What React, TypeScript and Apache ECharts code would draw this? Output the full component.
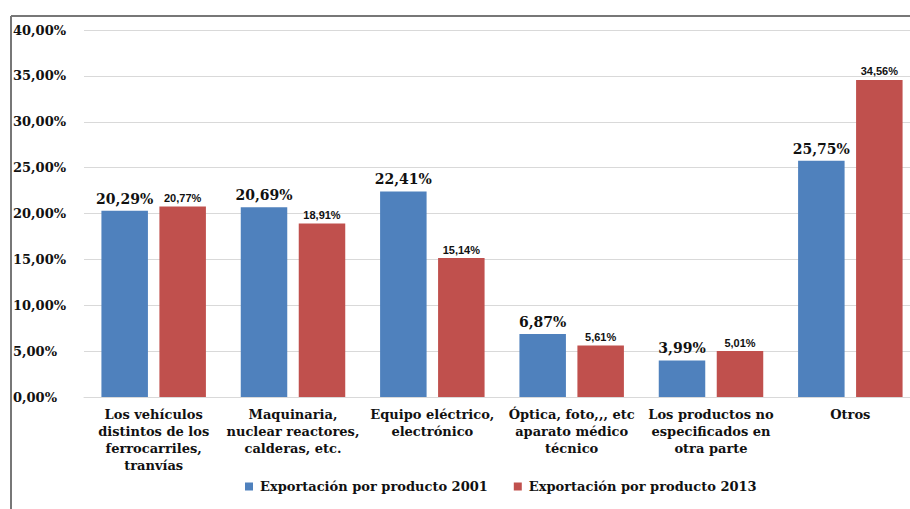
import React, { useEffect, useRef } from "react";
import * as echarts from "echarts";

const categories = [
  "Los vehículos\ndistintos de los\nferrocarriles,\ntranvías",
  "Maquinaria,\nnuclear reactores,\ncalderas, etc.",
  "Equipo eléctrico,\nelectrónico",
  "Óptica, foto,,, etc\naparato médico\ntécnico",
  "Los productos no\nespecificados en\notra parte",
  "Otros",
];
const series2001 = [20.29, 20.69, 22.41, 6.87, 3.99, 25.75];
const series2013 = [20.77, 18.91, 15.14, 5.61, 5.01, 34.56];
const seriesNames = ["Exportación por producto 2001", "Exportación por producto 2013"];
const yTicks = { min: 0, max: 40, interval: 5 };

const fmt = (v: number) => v.toFixed(2).replace(".", ",") + "%";
const SERIF = "DejaVu Serif";
const SANS = "Liberation Sans";

export default function App() {
  const ref = useRef<HTMLDivElement>(null);
  useEffect(() => {
    if (!ref.current) return;
    const chart = echarts.init(ref.current, null, { renderer: "svg" });
    chart.setOption({
      animation: false,
      backgroundColor: "#ffffff",
      textStyle: { fontFamily: SERIF },
      grid: {
        left: 84,
        top: 30,
        width: 836,
        bottom: 112,
        containLabel: false,
        outerBoundsMode: "none",
      },
      legend: {
        data: seriesNames,
        bottom: 11,
        left: 240,
        itemWidth: 8,
        itemHeight: 8,
        itemGap: 26,
        icon: "rect",
        textStyle: {
          fontFamily: SERIF,
          fontWeight: "bold",
          fontSize: 13,
          color: "#111",
          padding: [0, 0, 0, 2],
        },
      },
      xAxis: {
        type: "category",
        data: categories,
        axisTick: { show: false },
        axisLine: { lineStyle: { color: "#d9d9d9", width: 1 } },
        axisLabel: {
          interval: 0,
          margin: 9,
          fontFamily: SERIF,
          fontWeight: "bold",
          fontSize: 13,
          lineHeight: 17,
          color: "#111",
        },
      },
      yAxis: {
        type: "value",
        min: yTicks.min,
        max: yTicks.max,
        interval: yTicks.interval,
        axisLine: { show: false },
        axisTick: { show: false },
        splitLine: { lineStyle: { color: "#d9d9d9", width: 1 } },
        axisLabel: {
          formatter: (v: number) => fmt(v),
          align: "left",
          margin: 71,
          fontFamily: SERIF,
          fontWeight: "bold",
          fontSize: 13,
          color: "#111",
        },
      },
      series: [
        {
          name: seriesNames[0],
          type: "bar",
          data: series2001,
          barWidth: 46.5,
          barGap: "24.7%",
          itemStyle: { color: "#4F81BD" },
          label: {
            show: true,
            position: "top",
            distance: 5,
            formatter: (p: any) => fmt(p.value),
            fontFamily: SERIF,
            fontWeight: "bold",
            fontSize: 14,
            color: "#111",
          },
        },
        {
          name: seriesNames[1],
          type: "bar",
          data: series2013,
          barWidth: 46.5,
          barGap: "24.7%",
          itemStyle: { color: "#C0504D" },
          label: {
            show: true,
            position: "top",
            distance: 3,
            formatter: (p: any) => fmt(p.value),
            fontFamily: SANS,
            fontWeight: "bold",
            fontSize: 11,
            color: "#111",
          },
        },
      ],
      graphic: [
        {
          type: "line",
          shape: { x1: 11, y1: 16, x2: 910, y2: 16 },
          style: { stroke: "#777", lineWidth: 2 },
        },
        {
          type: "line",
          shape: { x1: 11, y1: 16, x2: 11, y2: 509 },
          style: { stroke: "#777", lineWidth: 2 },
        },
      ],
    });
    return () => chart.dispose();
  }, []);
  return (
    <div
      ref={ref}
      style={{ position: "fixed", left: 0, top: 0, width: 910, height: 509 }}
    />
  );
}
